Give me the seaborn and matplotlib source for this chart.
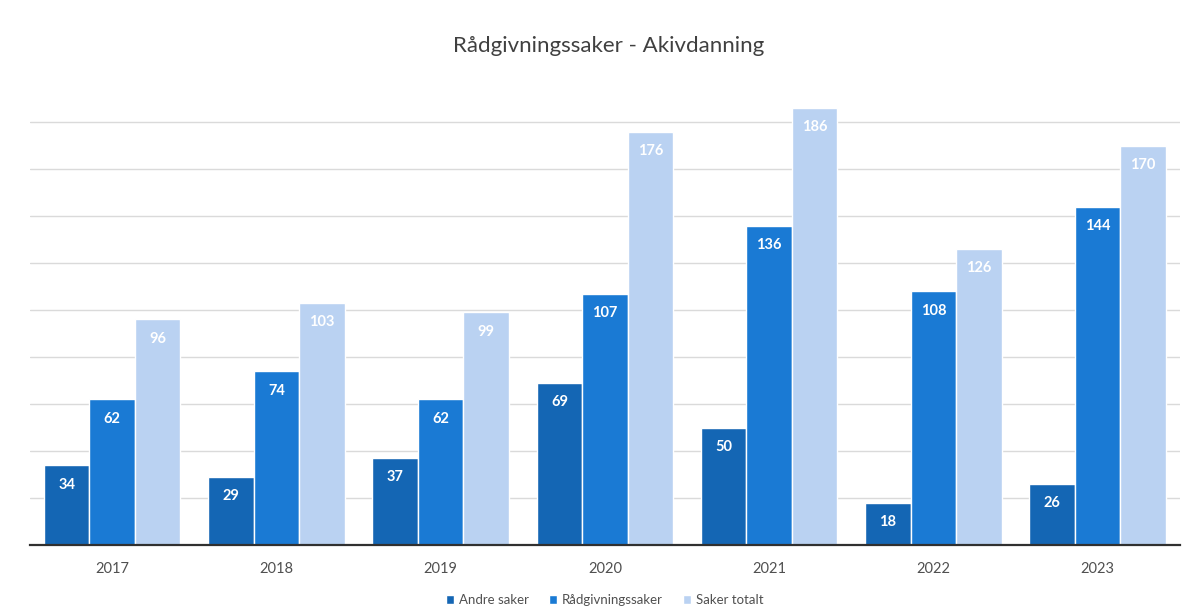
import matplotlib
matplotlib.use("Agg")
import matplotlib.pyplot as plt
import seaborn as sns
import pandas as pd

years = ["2017", "2018", "2019", "2020", "2021", "2022", "2023"]
andre_saker = [34, 29, 37, 69, 50, 18, 26]
radgivningssaker = [62, 74, 62, 107, 136, 108, 144]
saker_totalt = [96, 103, 99, 176, 186, 126, 170]
series_names = ["Andre saker", "Rådgivningssaker", "Saker totalt"]
colors = ["#1466b4", "#1a7ad4", "#bad2f2"]

df = pd.DataFrame({
    "År": years * 3,
    "Antall": andre_saker + radgivningssaker + saker_totalt,
    "Serie": [series_names[0]] * 7 + [series_names[1]] * 7 + [series_names[2]] * 7,
})

sns.set_theme(style="white")
plt.rcParams["font.family"] = ["Lato", "DejaVu Sans"]

fig = plt.figure(figsize=(11.89, 6.15), dpi=100)
ax = fig.add_axes([0.0252, 0.1138, 0.967, 0.764])

sns.barplot(data=df, x="År", y="Antall", hue="Serie", palette=colors,
            width=0.83, saturation=1, ax=ax, zorder=3, legend=True,
            edgecolor="white", linewidth=1.0)

ax.set_ylim(0, 200)
ax.set_xlim(-0.5, 6.5)
ax.set_yticks(range(20, 200, 20))
ax.yaxis.grid(True, color="#dadada", linewidth=1.0, zorder=0)
ax.set_axisbelow(True)
ax.tick_params(axis="y", left=False, labelleft=False)
ax.tick_params(axis="x", length=0, labelsize=10.5, labelcolor="#505050", pad=12)
ax.set_xlabel("")
ax.set_ylabel("")
for s in ["top", "right", "left"]:
    ax.spines[s].set_visible(False)
ax.spines["bottom"].set_color("#303030")
ax.spines["bottom"].set_linewidth(1.6)
ax.spines["bottom"].set_zorder(5)

for c in ax.containers:
    ax.bar_label(c, padding=-19, color="white", fontweight="bold", fontsize=10.5)

ax.legend(loc="lower center", bbox_to_anchor=(0.5, -0.155), ncol=3, frameon=False,
          fontsize=9.5, handlelength=0.6, handleheight=0.6, handletextpad=0.4,
          columnspacing=1.5, labelcolor="#505050")

fig.text(0.512, 0.925, "Rådgivningssaker - Akivdanning", ha="center", va="center",
         fontsize=16, color="#404040")

fig.savefig("out.png", dpi=100, facecolor="white")
